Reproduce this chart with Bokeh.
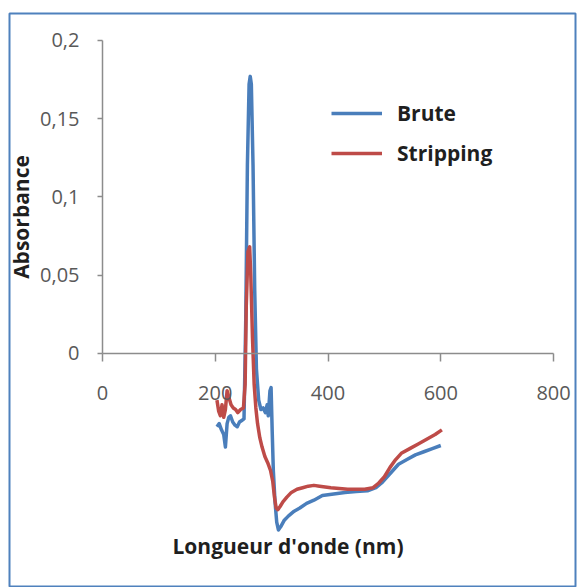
import math
from bokeh.plotting import figure
from bokeh.models import Range1d, FixedTicker, Legend, LegendItem, Label
from bokeh.embed import file_html
from bokeh.resources import INLINE

# ---- data ----
brute_x = [203, 207, 211, 215, 218, 221, 224, 227, 231, 235, 239, 243, 247, 251, 254,
           257, 260, 262, 264, 267, 270, 273, 277, 281, 285, 289, 292, 294, 297, 299,
           301, 303, 306, 309, 312, 316, 322, 330, 340, 350, 362, 375, 390, 410, 430,
           450, 470, 485, 495, 505, 515, 525, 540, 555, 570, 585, 600]
brute_y = [-0.047, -0.045, -0.049, -0.052, -0.060, -0.045, -0.041, -0.040, -0.044, -0.046,
           -0.047, -0.044, -0.043, -0.042, 0.020, 0.120, 0.172, 0.177, 0.172, 0.120,
           0.040, -0.010, -0.030, -0.036, -0.035, -0.038, -0.033, -0.040, -0.024, -0.022,
           -0.050, -0.075, -0.095, -0.108, -0.113, -0.111, -0.107, -0.104, -0.101, -0.099,
           -0.096, -0.094, -0.091, -0.090, -0.089, -0.0885, -0.088, -0.086, -0.083, -0.079,
           -0.075, -0.071, -0.068, -0.065, -0.063, -0.061, -0.059]

strip_x = [203, 206, 209, 212, 215, 218, 221, 224, 228, 232, 236, 240, 245, 250, 253,
           255, 258, 261, 263, 266, 269, 272, 275, 279, 283, 288, 293, 298, 302, 305,
           308, 311, 315, 320, 327, 335, 345, 355, 365, 375, 385, 395, 405, 420, 435,
           450, 465, 480, 490, 500, 510, 520, 530, 545, 560, 575, 590, 602]
strip_y = [-0.030, -0.037, -0.040, -0.033, -0.041, -0.036, -0.024, -0.028, -0.033, -0.035,
           -0.036, -0.038, -0.036, -0.035, -0.020, 0.030, 0.065, 0.068, 0.050, 0.010,
           -0.020, -0.035, -0.045, -0.054, -0.060, -0.066, -0.070, -0.075, -0.082, -0.092,
           -0.099, -0.100, -0.098, -0.095, -0.092, -0.089, -0.087, -0.086, -0.085, -0.0845,
           -0.085, -0.0855, -0.086, -0.0865, -0.087, -0.087, -0.087, -0.086, -0.083, -0.079,
           -0.073, -0.068, -0.064, -0.061, -0.058, -0.055, -0.052, -0.049]

series_names = ["Brute", "Stripping"]
x_ticks = [0, 200, 400, 600, 800]
x_tick_labels = ["0", "200", "400", "600", "800"]
y_ticks = [0, 0.05, 0.1, 0.15, 0.2]
y_tick_labels = ["0", "0,05", "0,1", "0,15", "0,2"]
x_title = "Longueur d'onde (nm)"
y_title = "Absorbance"

BLUE = "#4A7EBB"
RED = "#BE4B48"
AXIS = "#8C8C8C"
TICKTXT = "#595959"
FONT = "Open Sans"

p = figure(width=579, height=587,
           x_range=Range1d(-164.95, 838.95), y_range=Range1d(-0.1498, 0.2172),
           output_backend="svg", toolbar_location=None,
           min_border_left=9, min_border_top=13, min_border_right=4, min_border_bottom=0)
p.background_fill_color = "white"
p.border_fill_color = "white"
p.outline_line_color = "#4F81BD"
p.outline_line_width = 2
p.xgrid.visible = False
p.ygrid.visible = False

# x axis crossing at y=0
xa = p.xaxis[0]
xa.fixed_location = 0
xa.bounds = (0, 800)
xa.ticker = FixedTicker(ticks=x_ticks)
xa.major_label_overrides = {t: l for t, l in zip(x_ticks, x_tick_labels)}
xa.minor_tick_line_color = None
xa.major_tick_in = 0
xa.major_tick_out = 8
xa.axis_line_color = AXIS
xa.axis_line_width = 1.5
xa.major_tick_line_color = AXIS
xa.major_tick_line_width = 1.5
xa.major_label_text_font = FONT
xa.major_label_text_font_size = "20px"
xa.major_label_text_color = TICKTXT
xa.major_label_standoff = 25

# y axis at x=0
ya = p.yaxis[0]
ya.fixed_location = 0
ya.bounds = (0, 0.2)
ya.ticker = FixedTicker(ticks=y_ticks)
ya.major_label_overrides = {t: l for t, l in zip(y_ticks, y_tick_labels)}
ya.minor_tick_line_color = None
ya.major_tick_in = 0
ya.major_tick_out = 5
ya.axis_line_color = AXIS
ya.axis_line_width = 1.5
ya.major_tick_line_color = AXIS
ya.major_tick_line_width = 1.5
ya.major_label_text_font = FONT
ya.major_label_text_font_size = "20px"
ya.major_label_text_color = TICKTXT
ya.major_label_standoff = 18

r1 = p.line(brute_x, brute_y, line_color=BLUE, line_width=3.5, line_join="round")
r2 = p.line(strip_x, strip_y, line_color=RED, line_width=3.5, line_join="round")

legend = Legend(items=[LegendItem(label=series_names[0], renderers=[r1]),
                       LegendItem(label=series_names[1], renderers=[r2])],
                location=(322, 420), orientation="vertical",
                padding=0, margin=0, spacing=12,
                glyph_width=51, glyph_height=20, label_height=20, label_standoff=15,
                border_line_color=None, background_fill_alpha=0)
legend.label_text_font = FONT
legend.label_text_font_style = "bold"
legend.label_text_font_size = "21px"
legend.label_text_color = "#1F1F1F"
p.add_layout(legend, "center")

p.add_layout(Label(x=11, y=370.5, x_units="screen", y_units="screen", text=y_title,
                   angle=math.pi / 2, text_align="center", text_baseline="middle",
                   text_font=FONT, text_font_style="bold", text_font_size="21px",
                   text_color="#1F1F1F"))
p.add_layout(Label(x=278.5, y=42, x_units="screen", y_units="screen", text=x_title,
                   text_align="center", text_baseline="middle",
                   text_font=FONT, text_font_style="bold", text_font_size="21px",
                   text_color="#1F1F1F"))

open("out.html", "w").write(file_html(p, INLINE))
